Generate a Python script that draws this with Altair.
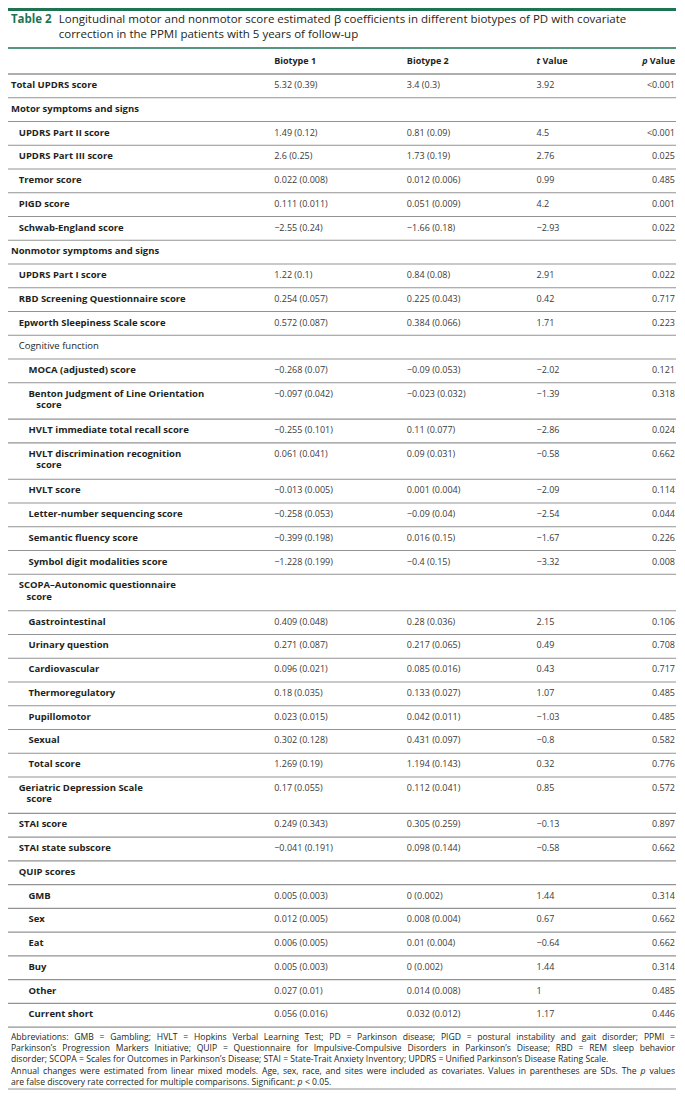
import altair as alt
import pandas as pd

# ---------------- data ----------------
title_tag = "Table 2"
title_lines = [
    "Longitudinal motor and nonmotor score estimated \u03b2 coefficients in different biotypes of PD with covariate",
    "correction in the PPMI patients with 5 years of follow-up",
]
col_headers = ["Biotype 1", "Biotype 2"]

labels = [
    "Total UPDRS score", "Motor symptoms and signs", "UPDRS Part II score", "UPDRS Part III score",
    "Tremor score", "PIGD score", "Schwab-England score", "Nonmotor symptoms and signs",
    "UPDRS Part I score", "RBD Screening Questionnaire score", "Epworth Sleepiness Scale score",
    "Cognitive function", "MOCA (adjusted) score", "Benton Judgment of Line Orientation\nscore",
    "HVLT immediate total recall score", "HVLT discrimination recognition\nscore", "HVLT score",
    "Letter-number sequencing score", "Semantic fluency score", "Symbol digit modalities score",
    "SCOPA\u2013Autonomic questionnaire\nscore", "Gastrointestinal", "Urinary question", "Cardiovascular",
    "Thermoregulatory", "Pupillomotor", "Sexual", "Total score", "Geriatric Depression Scale\nscore",
    "STAI score", "STAI state subscore", "QUIP scores", "GMB", "Sex", "Eat", "Buy", "Other", "Current short",
]
levels = [0, 0, 1, 1, 1, 1, 1, 0, 1, 1, 1, 1, 2, 2, 2, 2, 2, 2, 2, 2, 1, 2, 2, 2, 2, 2, 2, 2,
          1, 1, 1, 1, 2, 2, 2, 2, 2, 2]
bio1 = ["5.32 (0.39)", "", "1.49 (0.12)", "2.6 (0.25)", "0.022 (0.008)", "0.111 (0.011)", "\u22122.55 (0.24)", "",
        "1.22 (0.1)", "0.254 (0.057)", "0.572 (0.087)", "", "\u22120.268 (0.07)", "\u22120.097 (0.042)",
        "\u22120.255 (0.101)", "0.061 (0.041)", "\u22120.013 (0.005)", "\u22120.258 (0.053)", "\u22120.399 (0.198)",
        "\u22121.228 (0.199)", "", "0.409 (0.048)", "0.271 (0.087)", "0.096 (0.021)", "0.18 (0.035)",
        "0.023 (0.015)", "0.302 (0.128)", "1.269 (0.19)", "0.17 (0.055)", "0.249 (0.343)", "\u22120.041 (0.191)", "",
        "0.005 (0.003)", "0.012 (0.005)", "0.006 (0.005)", "0.005 (0.003)", "0.027 (0.01)", "0.056 (0.016)"]
bio2 = ["3.4 (0.3)", "", "0.81 (0.09)", "1.73 (0.19)", "0.012 (0.006)", "0.051 (0.009)", "\u22121.66 (0.18)", "",
        "0.84 (0.08)", "0.225 (0.043)", "0.384 (0.066)", "", "\u22120.09 (0.053)", "\u22120.023 (0.032)",
        "0.11 (0.077)", "0.09 (0.031)", "0.001 (0.004)", "\u22120.09 (0.04)", "0.016 (0.15)", "\u22120.4 (0.15)", "",
        "0.28 (0.036)", "0.217 (0.065)", "0.085 (0.016)", "0.133 (0.027)", "0.042 (0.011)", "0.431 (0.097)",
        "1.194 (0.143)", "0.112 (0.041)", "0.305 (0.259)", "0.098 (0.144)", "", "0 (0.002)", "0.008 (0.004)",
        "0.01 (0.004)", "0 (0.002)", "0.014 (0.008)", "0.032 (0.012)"]
tval = ["3.92", "", "4.5", "2.76", "0.99", "4.2", "\u22122.93", "", "2.91", "0.42", "1.71", "", "\u22122.02",
        "\u22121.39", "\u22122.86", "\u22120.58", "\u22122.09", "\u22122.54", "\u22121.67", "\u22123.32", "", "2.15",
        "0.49", "0.43", "1.07", "\u22121.03", "\u22120.8", "0.32", "0.85", "\u22120.13", "\u22120.58", "", "1.44",
        "0.67", "\u22120.64", "1.44", "1", "1.17"]
pval = ["<0.001", "", "<0.001", "0.025", "0.485", "0.001", "0.022", "", "0.022", "0.717", "0.223", "",
        "0.121", "0.318", "0.024", "0.662", "0.114", "0.044", "0.226", "0.008", "", "0.106", "0.708", "0.717",
        "0.485", "0.485", "0.582", "0.776", "0.572", "0.897", "0.662", "", "0.314", "0.662", "0.662", "0.314",
        "0.485", "0.446"]
regular_labels = ["Cognitive function"]
footnote = [
    "Abbreviations: GMB = Gambling; HVLT = Hopkins Verbal Learning Test; PD = Parkinson disease; PIGD = postural instability and gait disorder; PPMI =",
    "Parkinson\u2019s Progression Markers Initiative; QUIP = Questionnaire for Impulsive-Compulsive Disorders in Parkinson\u2019s Disease; RBD = REM sleep behavior",
    "disorder; SCOPA = Scales for Outcomes in Parkinson\u2019s Disease; STAI = State-Trait Anxiety Inventory; UPDRS = Unified Parkinson\u2019s Disease Rating Scale.",
    "Annual changes were estimated from linear mixed models. Age, sex, race, and sites were included as covariates. Values in parentheses are SDs. The p values",
    "are false discovery rate corrected for multiple comparisons. Significant: p < 0.05.",
]
footnote_justified = [True, True, False, True, False]
for arr in (levels, bio1, bio2, tval, pval):
    assert len(arr) == len(labels)

# ---------------- layout / style ----------------
W, H = 668, 1082
FONT = "Open Sans"
GREEN = "#1e7353"
INK = "#231f20"
VAL = "#3a3a3a"
GRID = "#939393"
FS, FS_LAB, FS_FOOT = 9, 9.5, 8.6
ROW_H, ROW_H2 = 23.75, 36.4
X_LEFT = {0: 2, 1: 10, 2: 20}
COL_B1, COL_B2, COL_T, COL_P = 272, 408, 541, 683
PX_PER_UNIT = W / 685.0

# approximate Open Sans advance widths (em) used only to lay out justified footnote words
_CW = {" ": 0.26, ".": 0.266, ",": 0.245, ":": 0.266, ";": 0.266, "=": 0.572, "-": 0.322, "\u2019": 0.175,
       "(": 0.297, ")": 0.297, "<": 0.572, "a": 0.556, "b": 0.613, "c": 0.476, "d": 0.613, "e": 0.561,
       "f": 0.339, "g": 0.548, "h": 0.614, "i": 0.253, "j": 0.253, "k": 0.525, "l": 0.253, "m": 0.93,
       "n": 0.614, "o": 0.604, "p": 0.613, "q": 0.613, "r": 0.408, "s": 0.477, "t": 0.353, "u": 0.614,
       "v": 0.501, "w": 0.778, "x": 0.524, "y": 0.502, "z": 0.477, "A": 0.633, "B": 0.648, "C": 0.631,
       "D": 0.729, "E": 0.556, "F": 0.516, "G": 0.728, "H": 0.738, "I": 0.279, "J": 0.267, "K": 0.614,
       "L": 0.524, "M": 0.903, "N": 0.754, "O": 0.779, "P": 0.602, "Q": 0.779, "R": 0.618, "S": 0.549,
       "T": 0.553, "U": 0.728, "V": 0.595, "W": 0.926, "X": 0.577, "Y": 0.56, "Z": 0.571}


def width_units(s, size):
    return sum(_CW.get(ch, 0.572) for ch in s) * size / PX_PER_UNIT


label_bold, label_reg, values, pvals, rules = [], [], [], [], []
rules.append(dict(x=-1, x2=684, y=9.5, color=GREEN, w=3))
rules.append(dict(x=-1, x2=684, y=48, color=GREEN, w=1.4))
top = 74.0
rules.append(dict(x=-1, x2=684, y=top, color=GRID, w=1.3))
for i, lab in enumerate(labels):
    parts = lab.split("\n")
    h = ROW_H if len(parts) == 1 else ROW_H2
    y1 = top + 11
    for j, p in enumerate(parts):
        rec = dict(x=X_LEFT[levels[i]] + (8 if j else 0), y=y1 + 11.5 * j, text=p)
        (label_reg if lab in regular_labels else label_bold).append(rec)
    for cx, arr in ((COL_B1, bio1), (COL_B2, bio2), (COL_T, tval)):
        if arr[i]:
            values.append(dict(x=cx, y=y1, text=arr[i]))
    if pval[i]:
        pvals.append(dict(x=COL_P, y=y1, text=pval[i]))
    top += h
    rules.append(dict(x=-1, x2=684, y=top, color=GRID, w=1.1))

# footnote, word by word (justified lines spread over the full table width)
foot_reg, foot_ital = [], []
space_u = width_units(" ", FS_FOOT)
for k, line in enumerate(footnote):
    words = line.split(" ")
    ws = [width_units(w, FS_FOOT) for w in words]
    gap = space_u
    if footnote_justified[k] and len(words) > 1:
        gap = max(space_u, (681 - sum(ws)) / (len(words) - 1))
    xcur = 2.0
    yk = top + 9.5 + 11.3 * k
    for w, wd in zip(words, ws):
        (foot_ital if w == "p" else foot_reg).append(dict(x=xcur, y=yk, text=w))
        xcur += wd + gap
rules.append(dict(x=-1, x2=684, y=1089, color=GRID, w=1.1))

hdr_y = 61
head_bold = [dict(x=COL_B1, y=hdr_y, text=col_headers[0]), dict(x=COL_B2, y=hdr_y, text=col_headers[1]),
             dict(x=COL_T + 6, y=hdr_y, text="Value")]
head_ital = [dict(x=COL_T, y=hdr_y, text="t")]
head_right_bold = [dict(x=COL_P, y=hdr_y, text="Value")]
head_right_ital = [dict(x=COL_P - 28, y=hdr_y, text="p")]

title_tag_df = [dict(x=2, y=20, text=title_tag)]
title_df = [dict(x=51, y=20, text=title_lines[0]), dict(x=51, y=34.5, text=title_lines[1])]

xs = alt.Scale(domain=[-1, 684], range=[0, W], nice=False, zero=False)
ys = alt.Scale(domain=[8, 8 + H], range=[0, H], nice=False, zero=False)


def tl(recs, **kw):
    return alt.Chart(pd.DataFrame(recs)).mark_text(font=FONT, baseline="middle", **kw).encode(
        x=alt.X("x:Q", scale=xs, axis=None),
        y=alt.Y("y:Q", scale=ys, axis=None),
        text="text:N",
    )


rule_layer = alt.Chart(pd.DataFrame(rules)).mark_rule().encode(
    x=alt.X("x:Q", scale=xs, axis=None),
    x2="x2:Q",
    y=alt.Y("y:Q", scale=ys, axis=None),
    color=alt.Color("color:N", scale=None),
    strokeWidth=alt.StrokeWidth("w:Q", scale=None),
)

chart = alt.layer(
    rule_layer,
    tl(title_tag_df, align="left", fontSize=11.5, fontWeight="bold", color=GREEN),
    tl(title_df, align="left", fontSize=11.5, color=INK),
    tl(head_bold, align="left", fontSize=FS, fontWeight="bold", color=INK),
    tl(head_ital, align="left", fontSize=FS, fontStyle="italic", fontWeight="bold", color=INK),
    tl(head_right_bold, align="right", fontSize=FS, fontWeight="bold", color=INK),
    tl(head_right_ital, align="right", fontSize=FS, fontStyle="italic", fontWeight="bold", color=INK),
    tl(label_bold, align="left", fontSize=FS_LAB, fontWeight="bold", color=INK),
    tl(label_reg, align="left", fontSize=FS_LAB, color=INK),
    tl(values, align="left", fontSize=FS, color=VAL),
    tl(pvals, align="right", fontSize=FS, color=VAL),
    tl(foot_reg, align="left", fontSize=FS_FOOT, color=INK),
    tl(foot_ital, align="left", fontSize=FS_FOOT, fontStyle="italic", color=INK),
).properties(
    width=W, height=H, padding=0, autosize=alt.AutoSizeParams(type="none"), background="white"
).configure_view(stroke=None)

chart.save("out.html", embed_options={"renderer": "svg", "actions": False})
